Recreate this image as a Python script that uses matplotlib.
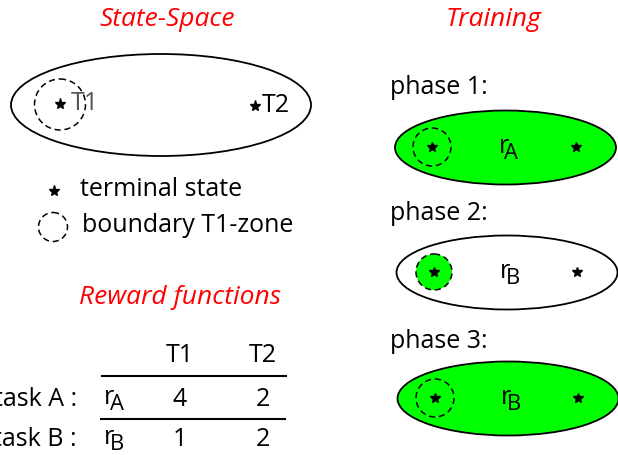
import matplotlib
matplotlib.use("Agg")
import matplotlib.pyplot as plt
from matplotlib.patches import Ellipse, Circle

plt.rcParams['font.family'] = ['Open Sans', 'DejaVu Sans']

# ---- data ----
section_titles = ["State-Space", "Reward functions", "Training"]
terminals = ["T1", "T2"]
legend_labels = ["terminal state", "boundary T1-zone"]
tasks = ["task A :", "task B :"]
reward_names = ["A", "B"]
reward_T1 = [4, 1]
reward_T2 = [2, 2]
phases = ["phase 1:", "phase 2:", "phase 3:"]
phase_reward = ["A", "B", "B"]
phase_fill_ellipse = [True, False, True]
phase_fill_zone = [False, True, False]

GREEN = "#00FF00"
RED = "#FF0000"
FS = 18
TFS = 19

fig = plt.figure(figsize=(6.18, 4.55), dpi=100)
ax = fig.add_axes([0, 0, 1, 1])
ax.set_xlim(0, 618)
ax.set_ylim(455, 0)
ax.set_aspect('equal')
ax.axis('off')

def star(x, y, ms=8):
    ax.plot([x], [y], marker='*', color='black', markersize=ms, zorder=5)

def rsub(x, y, sub):
    ax.text(x, y - 2, "r", fontsize=FS, ha='left', va='center', zorder=6)
    ax.text(x + 6, y + 5, sub, fontsize=FS * 0.88, ha='left', va='center', zorder=6)

# ---- State-space ----
ax.text(167, 19, section_titles[0], color=RED, style='italic', fontsize=TFS,
        ha='center', va='center')
ax.add_patch(Ellipse((161, 105), 300, 102, fill=False, lw=1.3, ec='black'))
ax.add_patch(Circle((60, 104.5), 25.5, fill=False, lw=1.1, ls=(0, (4, 2.5)), ec='black'))
star(60, 104)
ax.text(71, 103, terminals[0], color='#555555', fontsize=FS, ha='left', va='center')
star(255, 106)
ax.text(262, 105, terminals[1], color='black', fontsize=FS, ha='left', va='center')

# legend
star(54, 191)
ax.text(80, 190, legend_labels[0], fontsize=FS, ha='left', va='center')
ax.add_patch(Circle((53, 227), 14.5, fill=False, lw=1.1, ls=(0, (4, 2.5)), ec='black'))
ax.text(82, 226, legend_labels[1], fontsize=FS, ha='left', va='center')

# ---- Reward functions ----
ax.text(180, 297, section_titles[1], color=RED, style='italic', fontsize=TFS,
        ha='center', va='center')
col_x = [180, 263]
for cx, t in zip(col_x, terminals):
    ax.text(cx, 356, t, fontsize=FS, ha='center', va='center')
ax.plot([102, 286], [376, 376], color='black', lw=1.5)
ax.plot([101, 285], [419, 419], color='black', lw=1.5)
row_y = [399, 440]
for ry, task, rn, v1, v2 in zip(row_y, tasks, reward_names, reward_T1, reward_T2):
    ax.text(77, ry, task, fontsize=FS, ha='right', va='center')
    rsub(104, ry, rn)
    ax.text(col_x[0], ry, str(v1), fontsize=FS, ha='center', va='center')
    ax.text(col_x[1], ry, str(v2), fontsize=FS, ha='center', va='center')

# ---- Training ----
ax.text(494, 20, section_titles[2], color=RED, style='italic', fontsize=TFS,
        ha='center', va='center')
phase_label_y = [87, 214, 341]
ell_cy = [147.5, 272.5, 398.5]
ell_cx = [505.5, 507, 508]
zone_x = [432, 434, 435]
far_x = [576, 577, 578]
for i, ph in enumerate(phases):
    ax.text(390, phase_label_y[i], ph, fontsize=FS, ha='left', va='center')
    ax.add_patch(Ellipse((ell_cx[i], ell_cy[i]), 221, 74,
                         fc=GREEN if phase_fill_ellipse[i] else 'white',
                         ec='black', lw=1.3))
    ax.add_patch(Circle((zone_x[i], ell_cy[i] - 0.5), 19 if not phase_fill_zone[i] else 18,
                        fc=GREEN if phase_fill_zone[i] else 'none',
                        ec='black', lw=1.1, ls=(0, (4, 2.5)), zorder=4))
    star(zone_x[i], ell_cy[i] - 0.5, ms=7)
    star(far_x[i], ell_cy[i] - 0.5, ms=7)
    rsub(ell_cx[i] - 7, ell_cy[i] + 1, phase_reward[i])

fig.savefig("out.png", dpi=100)
